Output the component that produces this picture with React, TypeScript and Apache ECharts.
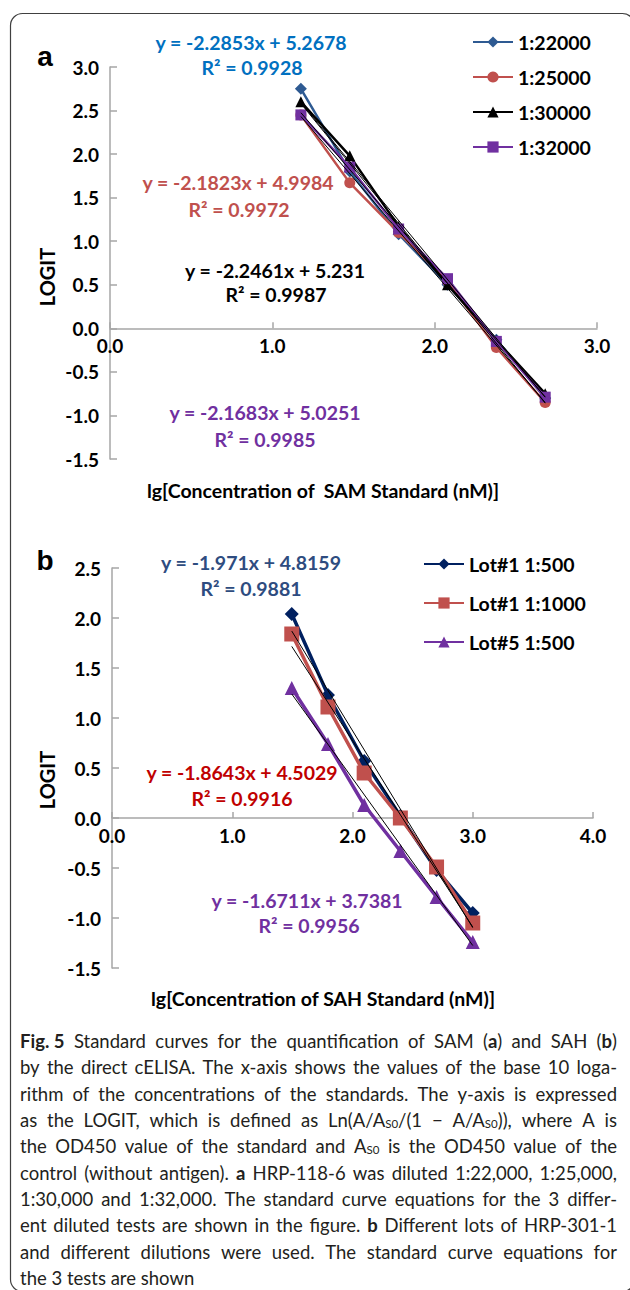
import React, { useEffect, useRef } from 'react';
import * as echarts from 'echarts';

// ---------- Panel a data ----------
const xA = [1.176, 1.477, 1.778, 2.079, 2.38, 2.681];
const namesA = ['1:22000', '1:25000', '1:30000', '1:32000'];
const yA22000 = [2.75, 1.8, 1.08, 0.5, -0.13, -0.8];
const yA25000 = [2.45, 1.67, 1.1, 0.54, -0.22, -0.85];
const yA30000 = [2.6, 1.98, 1.17, 0.5, -0.14, -0.75];
const yA32000 = [2.45, 1.85, 1.14, 0.57, -0.15, -0.79];
const slopeA = [-2.2853, -2.1823, -2.2461, -2.1683];
const interceptA = [5.2678, 4.9984, 5.231, 5.0251];
const r2A = ['0.9928', '0.9972', '0.9987', '0.9985'];

// ---------- Panel b data ----------
const xB = [1.495, 1.796, 2.097, 2.398, 2.699, 3.0];
const namesB = ['Lot#1 1:500', 'Lot#1 1:1000', 'Lot#5 1:500'];
const yBLot1_500 = [2.04, 1.23, 0.57, 0.02, -0.52, -0.95];
const yBLot1_1000 = [1.84, 1.11, 0.45, 0.0, -0.49, -1.05];
const yBLot5_500 = [1.3, 0.74, 0.13, -0.33, -0.79, -1.24];
const slopeB = [-1.971, -1.8643, -1.6711];
const interceptB = [4.8159, 4.5029, 3.7381];
const r2B = ['0.9881', '0.9916', '0.9956'];

const ticksA_y = { min: -1.5, max: 3, interval: 0.5 };
const ticksA_x = { min: 0, max: 3, interval: 1 };
const ticksB_y = { min: -1.5, max: 2.5, interval: 0.5 };
const ticksB_x = { min: 0, max: 4, interval: 1 };

// caption lines ({b|..} bold, {s|..} subscript)
const captionLines = [
  '{b|Fig. 5}  Standard curves for the quantification of SAM ({b|a}) and SAH ({b|b})',
  'by the direct cELISA. The x-axis shows the values of the base 10 loga-',
  'rithm of the concentrations of the standards. The y-axis is expressed',
  'as the LOGIT, which is defined as Ln(A/A{s|S0}/(1 \u2212 A/A{s|S0})), where A is',
  'the OD450 value of the standard and A{s|S0} is the OD450 value of the',
  'control (without antigen). {b|a} HRP-118-6 was diluted 1:22,000, 1:25,000,',
  '1:30,000 and 1:32,000. The standard curve equations for the 3 differ-',
  'ent diluted tests are shown in the figure. {b|b} Different lots of HRP-301-1',
  'and different dilutions were used. The standard curve equations for',
  'the 3 tests are shown',
];

const F = 'Lato, "Open Sans", sans-serif';
const CAP_F = 'Lato, "Open Sans", sans-serif';
const CAP_SIZE = 18.5;
const SUB_SIZE = 11.5;

function zip(xs: number[], ys: number[]) {
  return xs.map((x, i) => [x, ys[i]]);
}
function trend(xs: number[], m: number, b: number) {
  const x0 = xs[0];
  const x1 = xs[xs.length - 1];
  return [
    [x0, m * x0 + b],
    [x1, m * x1 + b],
  ];
}

export default function App() {
  const ref = useRef<HTMLDivElement>(null);
  useEffect(() => {
    if (!ref.current) return;
    const chart = echarts.init(ref.current, null, { renderer: 'svg' });

    const gridA = { left: 110, top: 67, width: 487, height: 392 };
    const gridB = { left: 112, top: 568, width: 481, height: 400 };

    const axisGray = '#a6a6a6';
    const mkX = (gi: number, t: any, tY: any, gh: number) => ({
      type: 'value',
      gridIndex: gi,
      min: t.min,
      max: t.max,
      interval: t.interval,
      offset: -(gh * (0 - tY.min)) / (tY.max - tY.min),
      axisLine: { onZero: false, lineStyle: { color: axisGray, width: 1.5 } },
      axisTick: { show: true, inside: true, length: 6, lineStyle: { color: axisGray, width: 1.5 } },
      splitLine: { show: false },
      axisLabel: {
        formatter: (v: number) => v.toFixed(1),
        fontFamily: F,
        fontWeight: 'bold',
        fontSize: 19,
        color: '#000',
        margin: 8,
      },
    });
    const mkY = (gi: number, t: any) => ({
      type: 'value',
      gridIndex: gi,
      min: t.min,
      max: t.max,
      interval: t.interval,
      axisLine: { show: true, onZero: false, lineStyle: { color: axisGray, width: 1.5 } },
      axisTick: { show: true, inside: true, length: 7, lineStyle: { color: axisGray, width: 1.5 } },
      splitLine: { show: false },
      axisLabel: {
        formatter: (v: number) => v.toFixed(1),
        fontFamily: F,
        fontWeight: 'bold',
        fontSize: 19,
        color: '#000',
        margin: 11,
      },
    });

    const colorsA = ['#2E5A92', '#C0504D', '#000000', '#7030A0'];
    const symbolsA = ['diamond', 'circle', 'triangle', 'rect'];
    const sizesA = [12, 11, 11, 11];
    const dataA = [yA22000, yA25000, yA30000, yA32000];
    const eqColorsA = ['#0070C0', '#C0504D', '#000000', '#7030A0'];

    const colorsB = ['#002060', '#C0504D', '#7030A0'];
    const symbolsB = ['diamond', 'rect', 'triangle'];
    const sizesB = [14, 15, 14];
    const dataB = [yBLot1_500, yBLot1_1000, yBLot5_500];
    const eqColorsB = ['#2E4C80', '#C00000', '#7030A0'];

    const series: any[] = [];
    dataA.forEach((ys, i) => {
      series.push({
        name: namesA[i],
        type: 'line',
        xAxisIndex: 0,
        yAxisIndex: 0,
        data: zip(xA, ys),
        symbol: symbolsA[i],
        symbolSize: sizesA[i],
        showAllSymbol: true,
        color: colorsA[i],
        lineStyle: { color: colorsA[i], width: 2.5 },
        itemStyle: { color: colorsA[i] },
        z: 2 + i,
      });
    });
    dataA.forEach((_, i) => {
      series.push({
        type: 'line',
        xAxisIndex: 0,
        yAxisIndex: 0,
        data: trend(xA, slopeA[i], interceptA[i]),
        symbol: 'none',
        silent: true,
        lineStyle: { color: '#000', width: 1 },
        z: 10,
      });
    });
    dataB.forEach((ys, i) => {
      series.push({
        name: namesB[i],
        type: 'line',
        xAxisIndex: 1,
        yAxisIndex: 1,
        data: zip(xB, ys),
        symbol: symbolsB[i],
        symbolSize: sizesB[i],
        showAllSymbol: true,
        color: colorsB[i],
        lineStyle: { color: colorsB[i], width: 3.5 },
        itemStyle: { color: colorsB[i] },
        z: 2 + i,
      });
    });
    dataB.forEach((_, i) => {
      series.push({
        type: 'line',
        xAxisIndex: 1,
        yAxisIndex: 1,
        data: trend(xB, slopeB[i], interceptB[i]),
        symbol: 'none',
        silent: true,
        lineStyle: { color: '#000', width: 1 },
        z: 10,
      });
    });

    const eqText = (m: number, b: number) =>
      'y = ' + m.toString() + 'x + ' + b.toString();

    const txt = (
      text: string,
      x: number,
      y: number,
      color: string,
      size: number,
      align: string = 'center',
      weight: string = 'bold',
      rotation = 0,
      family: string = F
    ) => ({
      type: 'text',
      x,
      y,
      rotation,
      style: {
        text,
        fill: color,
        font: `${weight} ${size}px ${family}`,
        align,
        verticalAlign: 'middle',
      },
      z: 20,
    });

    const eqPosA = [
      [251, 42, 252, 67],
      [238, 182, 239, 209],
      [275, 270, 276, 294],
      [265, 412, 265, 439],
    ];
    const eqPosB = [
      [251, 562, 251, 588],
      [242, 772, 242, 798],
      [307, 900, 309, 925],
    ];

    const graphics: any[] = [
      {
        type: 'rect',
        shape: { x: 10.5, y: 13.5, width: 624, height: 1278, r: 12 },
        style: { fill: 'none', stroke: '#404040', lineWidth: 1.2 },
        silent: true,
        z: 0,
      },
      txt('a', 45, 56, '#000', 28, 'center', 'bold', 0, '"Liberation Sans", Arial, sans-serif'),
      txt('b', 45, 560, '#000', 28, 'center', 'bold', 0, '"Liberation Sans", Arial, sans-serif'),
      txt('LOGIT', 47, 277, '#000', 20, 'center', 'bold', Math.PI / 2),
      txt('LOGIT', 47, 780, '#000', 20, 'center', 'bold', Math.PI / 2),
      txt('lg[Concentration of  SAM Standard (nM)]', 323, 490, '#000', 19.5),
      txt('lg[Concentration of SAH Standard (nM)]', 323, 998, '#000', 19.5),
    ];
    eqPosA.forEach((p, i) => {
      graphics.push(txt(eqText(slopeA[i], interceptA[i]), p[0], p[1], eqColorsA[i], 19.5));
      graphics.push(txt('R\u00B2 = ' + r2A[i], p[2], p[3], eqColorsA[i], 19.5));
    });
    eqPosB.forEach((p, i) => {
      graphics.push(txt(eqText(slopeB[i], interceptB[i]), p[0], p[1], eqColorsB[i], 19.5));
      graphics.push(txt('R\u00B2 = ' + r2B[i], p[2], p[3], eqColorsB[i], 19.5));
    });

    // ---- justified caption: each word placed separately ----
    const canvas = document.createElement('canvas');
    const ctx = canvas.getContext('2d') as CanvasRenderingContext2D;
    const measureWord = (w: string) => {
      let total = 0;
      const re = /\{(\w)\|([^}]*)\}|([^{]+)/g;
      let m: RegExpExecArray | null;
      while ((m = re.exec(w))) {
        if (m[1] === 'b') {
          ctx.font = `bold ${CAP_SIZE}px ${CAP_F}`;
          total += ctx.measureText(m[2]).width;
        } else if (m[1] === 's') {
          ctx.font = `normal ${SUB_SIZE}px ${CAP_F}`;
          total += ctx.measureText(m[2]).width;
        } else {
          ctx.font = `normal ${CAP_SIZE}px ${CAP_F}`;
          total += ctx.measureText(m[3]).width;
        }
      }
      return total;
    };
    const capLeft = 20;
    const capRight = 617;
    const capRich = {
      b: { fontFamily: CAP_F, fontWeight: 'bold', fontSize: CAP_SIZE, fill: '#231f20', lineHeight: 18 },
      s: { fontFamily: CAP_F, fontSize: SUB_SIZE, fill: '#231f20', verticalAlign: 'bottom', lineHeight: 12, padding: [8, 0, 0, 0] },
    };
    const capStyle = (text: string) => ({
      text,
      fill: '#231f20',
      font: `normal ${CAP_SIZE}px ${CAP_F}`,
      lineHeight: 18,
      align: 'left',
      verticalAlign: 'middle',
      rich: capRich,
    });
    captionLines.forEach((line, i) => {
      const y = 1041 + i * 26.35;
      const isLast = i === captionLines.length - 1;
      if (isLast) {
        graphics.push({ type: 'text', x: capLeft, y, style: capStyle(line), z: 20 });
        return;
      }
      // words: runs of rich groups / non-space characters
      const words = line.match(/(\{[^}]*\}|[^\s{])+/g) || [];
      const widths = words.map(measureWord);
      const sum = widths.reduce((a, b) => a + b, 0);
      const gap = (capRight - capLeft - sum) / (words.length - 1);
      let x = capLeft;
      words.forEach((w, k) => {
        graphics.push({ type: 'text', x, y, style: capStyle(w), z: 20 });
        x += widths[k] + gap;
      });
    });

    const legendCommon = {
      orient: 'vertical',
      itemWidth: 40,
      itemHeight: 14,
      padding: 0,
      textStyle: { fontFamily: F, fontWeight: 'bold', fontSize: 19.5, color: '#000' },
      selectedMode: false,
    };

    chart.setOption({
      animation: false,
      backgroundColor: '#fff',
      grid: [gridA, gridB],
      xAxis: [mkX(0, ticksA_x, ticksA_y, gridA.height), mkX(1, ticksB_x, ticksB_y, gridB.height)],
      yAxis: [mkY(0, ticksA_y), mkY(1, ticksB_y)],
      legend: [
        { ...legendCommon, data: namesA, left: 472, top: 32, itemGap: 15 },
        { ...legendCommon, data: namesB, left: 423, top: 554, itemGap: 19 },
      ],
      series,
      graphic: graphics,
    });
    return () => chart.dispose();
  }, []);
  return (
    <div
      ref={ref}
      style={{ position: 'absolute', left: 0, top: 0, width: 630, height: 1290 }}
    />
  );
}
